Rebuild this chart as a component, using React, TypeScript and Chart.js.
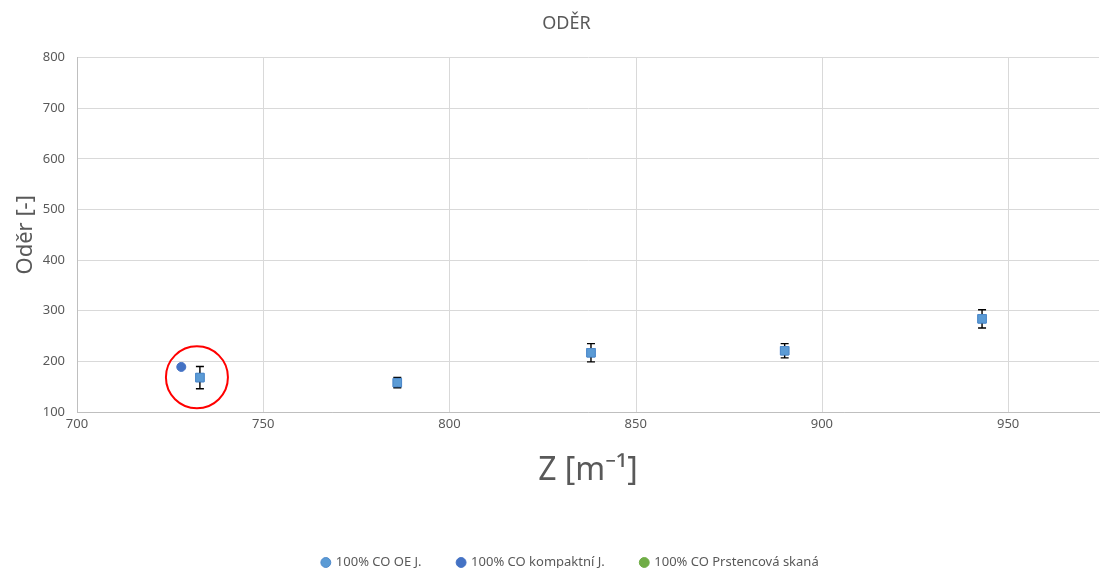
import React, { useEffect, useRef } from "react";
import { Chart, registerables } from "chart.js";

Chart.register(...registerables);

const seriesNames = ["100% CO OE J.", "100% CO kompaktní J.", "100% CO Prstencová skaná"];
const oeX = [733, 786, 838, 890, 943];
const oeY = [168, 158, 217, 221, 284];
const oeErr = [22, 10, 18, 14, 18];
const kompaktX = [728];
const kompaktY = [189];
const prstencX: number[] = [];
const prstencY: number[] = [];
const xTicks = [700, 750, 800, 850, 900, 950];
const highlightCenter = [732.2, 168.6];

const FONT = "'Noto Sans', 'Open Sans', sans-serif";
const GRAY = "#595959";

const errorBarPlugin = {
  id: "errorBars",
  afterLayout(chart: any) {
    const lg = chart.legend;
    if (lg) {
      lg.left += 18;
      lg.right += 18;
    }
    const tb = chart.titleBlock;
    if (tb) {
      tb.left += 14;
      tb.right += 14;
    }
  },
  beforeDatasetsDraw(chart: any) {
    const ctx = chart.ctx;
    const xs = chart.scales.x;
    const { top, bottom } = chart.chartArea;
    ctx.save();
    ctx.strokeStyle = "#d9d9d9";
    ctx.lineWidth = 1;
    xTicks.forEach((v, i) => {
      if (i === 0) return;
      const px = Math.round(xs.getPixelForValue(v)) + 0.5;
      ctx.beginPath();
      ctx.moveTo(px, top);
      ctx.lineTo(px, bottom);
      ctx.stroke();
    });
    ctx.restore();
  },
  afterDatasetsDraw(chart: any) {
    const meta = chart.getDatasetMeta(0);
    const ys = chart.scales.y;
    const ctx = chart.ctx;
    ctx.save();
    ctx.strokeStyle = "#000000";
    ctx.lineWidth = 1.4;
    meta.data.forEach((pt: any, i: number) => {
      const x = pt.x;
      const top = ys.getPixelForValue(oeY[i] + oeErr[i]);
      const bot = ys.getPixelForValue(oeY[i] - oeErr[i]);
      ctx.beginPath();
      ctx.moveTo(x, top);
      ctx.lineTo(x, bot);
      ctx.moveTo(x - 4, top);
      ctx.lineTo(x + 4, top);
      ctx.moveTo(x - 4, bot);
      ctx.lineTo(x + 4, bot);
      ctx.stroke();
    });
    meta.data.forEach((pt: any) => pt.draw(ctx, chart.chartArea));
    const cx = chart.scales.x.getPixelForValue(highlightCenter[0]);
    const cy = ys.getPixelForValue(highlightCenter[1]);
    ctx.beginPath();
    ctx.strokeStyle = "#ff0000";
    ctx.lineWidth = 2;
    ctx.arc(cx, cy, 31, 0, Math.PI * 2);
    ctx.stroke();
    ctx.restore();
  },
};

export default function App() {
  const ref = useRef<HTMLCanvasElement>(null);
  useEffect(() => {
    document.body.style.margin = "0";
    document.body.style.overflow = "hidden";
    const chart = new Chart(ref.current!, {
      type: "scatter",
      data: {
        datasets: [
          {
            label: seriesNames[0],
            data: oeX.map((x, i) => ({ x, y: oeY[i] })),
            pointStyle: "rect",
            pointRadius: 6,
            backgroundColor: "#5B9BD5",
            borderColor: "#4F8ACB",
            borderWidth: 1,
          },
          {
            label: seriesNames[1],
            data: kompaktX.map((x, i) => ({ x, y: kompaktY[i] })),
            pointStyle: "circle",
            pointRadius: 4.5,
            backgroundColor: "#4472C4",
            borderColor: "#4472C4",
          },
          {
            label: seriesNames[2],
            data: prstencX.map((x, i) => ({ x, y: prstencY[i] })),
            pointStyle: "circle",
            pointRadius: 4.5,
            backgroundColor: "#70AD47",
            borderColor: "#70AD47",
          },
        ],
      },
      options: {
        animation: false,
        responsive: false,
        layout: { padding: { left: 0, right: 1, top: 0, bottom: -11 } },
        plugins: {
          title: {
            display: true,
            text: "ODĚR",
            color: GRAY,
            font: { family: FONT, size: 18, weight: "normal" },
            padding: { top: 13, bottom: 23 },
          },
          legend: {
            position: "bottom",
            labels: {
              usePointStyle: true,
              pointStyle: "circle",
              boxWidth: 7,
              boxHeight: 7,
              color: GRAY,
              font: { family: FONT, size: 13 },
              padding: 36,
            },
          },
          tooltip: { enabled: false },
        },
        scales: {
          x: {
            type: "linear",
            min: 700,
            max: 974.4,
            afterBuildTicks(axis: any) {
              axis.ticks = xTicks.map((v) => ({ value: v }));
            },
            afterFit(axis: any) {
              axis.paddingRight = 0;
              axis.paddingLeft = 0;
            },
            grid: { display: false, drawTicks: false },
            border: { color: "#bfbfbf" },
            ticks: {
              color: GRAY,
              font: { family: FONT, size: 13 },
              padding: 4,
            },
            title: {
              display: true,
              text: "Z [m⁻¹]",
              color: GRAY,
              font: { family: FONT, size: 32 },
              padding: { top: 16, bottom: 30 },
            },
          },
          y: {
            min: 100,
            max: 800,
            afterFit(axis: any) {
              axis.width = 77;
            },
            ticks: {
              stepSize: 100,
              color: GRAY,
              font: { family: FONT, size: 13 },
              padding: 12,
            },
            grid: { color: "#d9d9d9", drawTicks: false },
            border: { color: "#bfbfbf" },
            title: {
              display: true,
              text: "Oděr [-]",
              color: GRAY,
              font: { family: FONT, size: 22 },
              padding: { top: 13, bottom: 0 },
            },
          },
        },
      },
      plugins: [errorBarPlugin],
    } as any);
    return () => chart.destroy();
  }, []);
  return (
    <div style={{ width: 1106, height: 568 }}>
      <canvas ref={ref} width={1106} height={568} style={{ display: "block" }} />
    </div>
  );
}
